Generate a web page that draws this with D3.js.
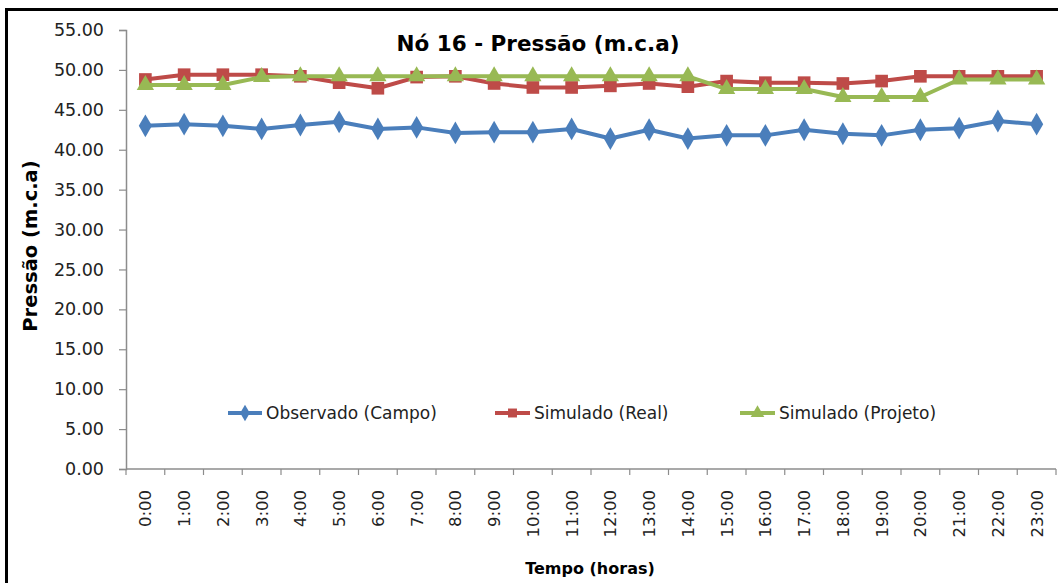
<!DOCTYPE html>
<html>
<head>
<meta charset="utf-8">
<script src="https://cdn.jsdelivr.net/npm/d3@7"></script>
<style>
  html, body { margin: 0; padding: 0; background: #fff; }
  svg { display: block; }
</style>
</head>
<body>
<svg id="chart" width="1058" height="583"></svg>
<script>
const hours = ["0:00","1:00","2:00","3:00","4:00","5:00","6:00","7:00","8:00","9:00","10:00","11:00",
               "12:00","13:00","14:00","15:00","16:00","17:00","18:00","19:00","20:00","21:00","22:00","23:00"];
const observado = [43.0,43.2,43.0,42.6,43.1,43.5,42.6,42.8,42.1,42.2,42.2,42.6,
                   41.4,42.5,41.4,41.8,41.8,42.5,42.0,41.8,42.5,42.7,43.6,43.2];
const simuladoReal = [48.8,49.4,49.4,49.4,49.2,48.4,47.7,49.1,49.2,48.3,47.8,47.8,
                      48.0,48.3,47.9,48.6,48.4,48.4,48.3,48.6,49.2,49.2,49.2,49.2];
const simuladoProjeto = [48.1,48.1,48.1,49.1,49.2,49.2,49.2,49.2,49.2,49.2,49.2,49.2,
                         49.2,49.2,49.2,47.6,47.6,47.6,46.6,46.6,46.6,48.8,48.8,48.8];
const yTicks = [0,5,10,15,20,25,30,35,40,45,50,55];
const seriesNames = ["Observado (Campo)","Simulado (Real)","Simulado (Projeto)"];
const title = "Nó 16 - Pressão (m.c.a)";
const yTitle = "Pressão (m.c.a)";
const xTitle = "Tempo (horas)";

const svg = d3.select("#chart");
const W = 1058, H = 583;
const plot = {left: 126, right: 1056, top: 30, bottom: 469};

svg.append("rect").attr("x", 0).attr("y", 0).attr("width", W).attr("height", H).attr("fill", "#fff");
// outer frame
svg.append("rect").attr("x", 6.5).attr("y", 9.5).attr("width", 1200).attr("height", 800)
  .attr("fill", "none").attr("stroke", "#000").attr("stroke-width", 3);

const x = d3.scaleBand().domain(hours).range([plot.left, plot.right]).padding(0);
const y = d3.scaleLinear().domain([0, 55]).range([plot.bottom, plot.top]);
const axisColor = "#8c8c8c";

// Y axis
const yAxis = svg.append("g").attr("transform", `translate(${plot.left},0)`)
  .call(d3.axisLeft(y).tickValues(yTicks).tickFormat(d3.format(".2f")).tickSize(7).tickPadding(15));
yAxis.select(".domain").attr("stroke", axisColor).attr("stroke-width", 1.5);
yAxis.selectAll(".tick line").attr("stroke", axisColor).attr("stroke-width", 1.2);
yAxis.selectAll(".tick text").attr("fill", "#222").style("font-family", "DejaVu Sans").style("font-size", "17.5px");

// X axis line
svg.append("line").attr("x1", plot.left).attr("x2", plot.right).attr("y1", plot.bottom).attr("y2", plot.bottom)
  .attr("stroke", axisColor).attr("stroke-width", 1.5);
// x tick marks at category boundaries
const boundaries = hours.map(h => x(h)).concat([x(hours[hours.length-1]) + x.bandwidth()]);
svg.append("g").selectAll("line").data(boundaries).join("line")
  .attr("x1", d => d).attr("x2", d => d).attr("y1", plot.bottom).attr("y2", plot.bottom + 6)
  .attr("stroke", axisColor).attr("stroke-width", 1.2);
// x labels
svg.append("g").selectAll("text").data(hours).join("text")
  .attr("transform", d => `translate(${x(d) + x.bandwidth()/2 + 6},${plot.bottom + 21}) rotate(-90)`)
  .attr("text-anchor", "end")
  .attr("fill", "#222").style("font-family", "DejaVu Sans").style("font-size", "16.5px")
  .text(d => d);

// Series
const series = [
  {name: seriesNames[0], values: observado, color: "#4a7ebb", symbol: d3.symbolDiamond, size: 150},
  {name: seriesNames[1], values: simuladoReal, color: "#be4b48", symbol: d3.symbolSquare, size: 160},
  {name: seriesNames[2], values: simuladoProjeto, color: "#98b954", symbol: d3.symbolTriangle, size: 130}
];
const line = d3.line().x((d, i) => x(hours[i]) + x.bandwidth()/2).y(d => y(d));
series.forEach(s => {
  const g = svg.append("g");
  g.append("path").datum(s.values).attr("d", line).attr("fill", "none")
    .attr("stroke", s.color).attr("stroke-width", 4).attr("stroke-linejoin", "round");
  g.selectAll("path.m").data(s.values).join("path").attr("class", "m")
    .attr("transform", (d, i) => `translate(${x(hours[i]) + x.bandwidth()/2},${y(d)})`)
    .attr("d", d3.symbol().type(s.symbol).size(s.size)).attr("fill", s.color);
});

// Legend
const legendPos = [{lx: 228, lx2: 262, tx: 266}, {lx: 495, lx2: 530, tx: 534}, {lx: 740, lx2: 775, tx: 779}];
const ly = 413;
series.forEach((s, i) => {
  const p = legendPos[i];
  const g = svg.append("g");
  g.append("line").attr("x1", p.lx).attr("x2", p.lx2).attr("y1", ly).attr("y2", ly)
    .attr("stroke", s.color).attr("stroke-width", 4);
  g.append("path").attr("transform", `translate(${(p.lx + p.lx2)/2},${ly})`)
    .attr("d", d3.symbol().type(s.symbol).size(80)).attr("fill", s.color);
  g.append("text").attr("x", p.tx).attr("y", ly + 6).attr("fill", "#222")
    .style("font-family", "DejaVu Sans").style("font-size", "17px").text(s.name);
});

// Titles
svg.append("text").attr("x", 538).attr("y", 51).attr("text-anchor", "middle")
  .attr("fill", "#000").style("font-family", "DejaVu Sans").style("font-weight", "bold").style("font-size", "21.5px")
  .text(title);
svg.append("text").attr("transform", `translate(37,246) rotate(-90)`).attr("text-anchor", "middle")
  .attr("fill", "#000").style("font-family", "DejaVu Sans").style("font-weight", "bold").style("font-size", "19.5px")
  .text(yTitle);
svg.append("text").attr("x", 590).attr("y", 574).attr("text-anchor", "middle")
  .attr("fill", "#000").style("font-family", "DejaVu Sans").style("font-weight", "bold").style("font-size", "16px")
  .text(xTitle);
</script>
</body>
</html>
